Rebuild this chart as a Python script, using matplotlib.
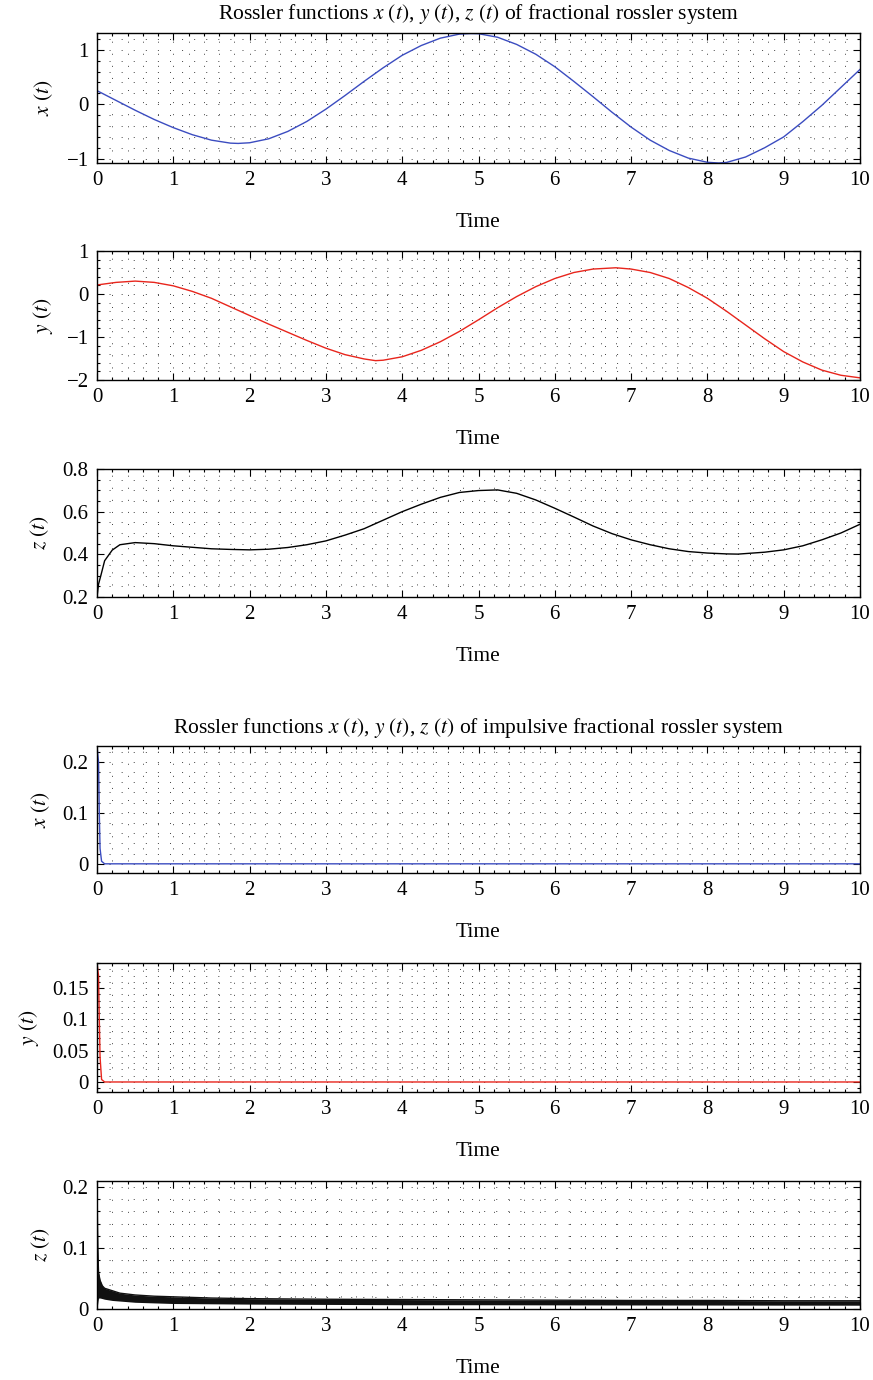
import numpy as np
import matplotlib
matplotlib.use("Agg")
import matplotlib.pyplot as plt
from matplotlib.ticker import MultipleLocator, FuncFormatter

plt.rcParams["font.family"] = ["Liberation Serif", "DejaVu Serif"]
plt.rcParams["mathtext.fontset"] = "stix"
plt.rcParams["lines.scale_dashes"] = False

# ---- fractional Rossler system ----
t_x = [0, 0.25, 0.5, 0.75, 1.0, 1.25, 1.5, 1.75, 1.85, 2.0, 2.25, 2.5, 2.75, 3.0,
       3.25, 3.5, 3.75, 4.0, 4.25, 4.5, 4.75, 4.9, 5.0, 5.25, 5.5, 5.75, 6.0,
       6.25, 6.5, 6.75, 7.0, 7.25, 7.5, 7.75, 8.0, 8.15, 8.25, 8.5, 8.75, 9.0,
       9.25, 9.5, 9.75, 10.0]
x_frac = [0.25, 0.07, -0.11, -0.28, -0.43, -0.56, -0.66, -0.715, -0.72, -0.708,
          -0.635, -0.50, -0.316, -0.09, 0.16, 0.42, 0.67, 0.90, 1.08, 1.215,
          1.29, 1.30, 1.297, 1.232, 1.10, 0.92, 0.69, 0.42, 0.14, -0.147, -0.42,
          -0.66, -0.85, -0.99, -1.067, -1.08, -1.07, -0.97, -0.80, -0.60, -0.32,
          -0.02, 0.31, 0.64]

t_y = [0, 0.25, 0.5, 0.75, 1.0, 1.25, 1.5, 1.75, 2.0, 2.25, 2.5, 2.75, 3.0, 3.25,
       3.5, 3.65, 3.75, 4.0, 4.25, 4.5, 4.75, 5.0, 5.25, 5.5, 5.75, 6.0, 6.25,
       6.5, 6.8, 7.0, 7.25, 7.5, 7.75, 8.0, 8.25, 8.5, 8.75, 9.0, 9.25, 9.5,
       9.75, 10.0]
y_frac = [0.21, 0.27, 0.30, 0.27, 0.19, 0.06, -0.10, -0.30, -0.50, -0.70, -0.89,
          -1.08, -1.26, -1.41, -1.51, -1.55, -1.54, -1.46, -1.31, -1.11, -0.87,
          -0.60, -0.32, -0.06, 0.17, 0.36, 0.50, 0.58, 0.61, 0.58, 0.50, 0.36,
          0.15, -0.10, -0.40, -0.72, -1.04, -1.34, -1.58, -1.77, -1.89, -1.95]

t_z = [0, 0.02, 0.05, 0.1, 0.2, 0.3, 0.5, 0.75, 1.0, 1.25, 1.5, 1.75, 2.0, 2.25,
       2.5, 2.75, 3.0, 3.25, 3.5, 3.75, 4.0, 4.25, 4.5, 4.75, 5.0, 5.25, 5.5,
       5.75, 6.0, 6.25, 6.5, 6.75, 7.0, 7.25, 7.5, 7.75, 8.0, 8.25, 8.4, 8.75,
       9.0, 9.25, 9.5, 9.75, 10.0]
z_frac = [0.20, 0.26, 0.30, 0.37, 0.42, 0.445, 0.455, 0.45, 0.44, 0.433, 0.426,
          0.423, 0.421, 0.424, 0.432, 0.445, 0.463, 0.49, 0.52, 0.56, 0.60,
          0.635, 0.667, 0.69, 0.699, 0.702, 0.686, 0.655, 0.616, 0.575, 0.533,
          0.497, 0.468, 0.445, 0.426, 0.413, 0.406, 0.402, 0.401, 0.41, 0.421,
          0.44, 0.468, 0.50, 0.541]

# ---- impulsive fractional Rossler system ----
t_xi = [0, 0.02, 0.03, 0.04, 0.06, 0.1, 10.0]
x_imp = [0.231, 0.20, 0.10, 0.03, 0.005, 0.0, 0.0]

t_yi = [0, 0.02, 0.03, 0.04, 0.06, 0.1, 10.0]
y_imp = [0.19, 0.17, 0.10, 0.04, 0.004, 0.0, 0.0]

# z oscillates fast -> drawn as a band (upper / lower envelope)
t_zi = [0, 0.01, 0.02, 0.04, 0.07, 0.1, 0.2, 0.3, 0.5, 0.75, 1.0, 1.5, 2.0,
        3.0, 4.0, 5.0, 6.0, 7.0, 8.0, 9.0, 10.0]
z_imp_hi = [0.21, 0.10, 0.06, 0.047, 0.038, 0.034, 0.030, 0.026, 0.023, 0.021,
            0.020, 0.018, 0.017, 0.016, 0.0155, 0.015, 0.0145, 0.014, 0.014,
            0.0135, 0.0135]
z_imp_lo = [0.0, 0.01, 0.018, 0.018, 0.017, 0.016, 0.014, 0.013, 0.011,
            0.010, 0.009, 0.0085, 0.008, 0.0075, 0.007, 0.007, 0.0068, 0.0066,
            0.0065, 0.0063, 0.0062]

BLUE = "#3b4cc0"
RED = "#e8251c"
FS = 15.5
TS = 15

W, H = 873, 1380
fig = plt.figure(figsize=(W / 100, H / 100), dpi=100)

# (top, bottom) pixel edges of each panel
edges = [(33, 163), (251, 380), (469, 597), (746, 873), (963, 1092), (1181, 1309)]
left, right = 97, 860
axes = []
for top, bot in edges:
    ax = fig.add_axes([left / W, 1 - bot / H, (right - left) / W, (bot - top) / H])
    axes.append(ax)

panels = [
    (t_x, x_frac, BLUE, (-1.08, 1.31), 1, 0.2, r"$x\ (t)$"),
    (t_y, y_frac, RED, (-2, 1), 1, 0.2, r"$y\ (t)$"),
    (t_z, z_frac, "black", (0.2, 0.8), 0.2, 0.05, r"$z\ (t)$"),
    (t_xi, x_imp, BLUE, (-0.018, 0.231), 0.1, 0.02, r"$x\ (t)$"),
    (t_yi, y_imp, RED, (-0.016, 0.19), 0.05, 0.01, r"$y\ (t)$"),
    (None, None, "black", (0, 0.21), 0.1, 0.02, r"$z\ (t)$"),
]

fmt = FuncFormatter(lambda v, p: ("%g" % round(v, 6)).replace("-", "\u2212"))

for ax, (tt, vv, col, yl, ymaj, ymin, lab) in zip(axes, panels):
    if tt is not None:
        ax.plot(tt, vv, color=col, lw=1.0)
    else:
        ax.fill_between(t_zi, z_imp_lo, z_imp_hi, color="#111111", lw=0)
        ax.plot(t_zi, z_imp_hi, color="#111111", lw=1.0)
    ax.set_xlim(0, 10)
    ax.set_ylim(*yl)
    ax.xaxis.set_major_locator(MultipleLocator(1))
    ax.xaxis.set_minor_locator(MultipleLocator(0.2))
    ax.yaxis.set_major_locator(MultipleLocator(ymaj))
    ax.yaxis.set_minor_locator(MultipleLocator(ymin))
    ax.xaxis.set_major_formatter(fmt)
    ax.yaxis.set_major_formatter(fmt)
    ax.grid(which="both", linestyle=(0, (0.7, 8.0)), linewidth=0.7, color="0.25")
    ax.set_axisbelow(True)
    ax.tick_params(which="both", direction="in", top=True, right=True,
                   labelsize=TS, width=0.8)
    ax.tick_params(which="major", length=5, pad=6)
    ax.tick_params(which="minor", length=2.5)
    for s in ax.spines.values():
        s.set_linewidth(1.0)
    ax.set_xlabel("Time", fontsize=FS, labelpad=16)
    ax.set_ylabel(lab, fontsize=FS, labelpad=8)

axes[0].set_title(r"Rossler functions $x\ (t)$, $y\ (t)$, $z\ (t)$ of fractional rossler system",
                  fontsize=FS, pad=10)
axes[3].set_title(r"Rossler functions $x\ (t)$, $y\ (t)$, $z\ (t)$ of impulsive fractional rossler system",
                  fontsize=FS, pad=9)

fig.savefig("out.png", dpi=100)
